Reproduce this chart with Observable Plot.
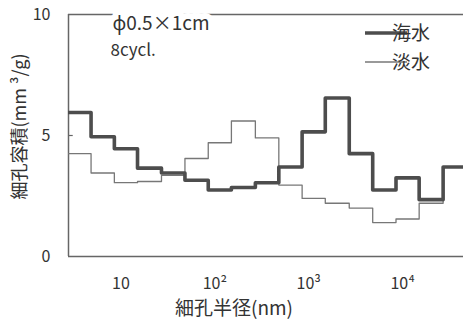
<!DOCTYPE html>
<html>
<head>
<meta charset="utf-8">
<script src="https://cdn.jsdelivr.net/npm/d3@7"></script>
<script src="https://cdn.jsdelivr.net/npm/@observablehq/plot@0.6"></script>
<style>
  html, body { margin: 0; padding: 0; background: white; }
  #chart { width: 463px; height: 327px; }
</style>
</head>
<body>
<div id="chart"></div>
<script>
// Bin edges of pore radius (nm), log-spaced classes
const binEdges = [2.7, 4.8, 8.5, 15, 27, 48, 85, 150, 270, 480, 850, 1500, 2700, 4800, 8500, 15000, 27000, 48000];
// Pore volume (mm^3/g) per class
const seawater   = [5.95, 4.95, 4.45, 3.65, 3.45, 3.15, 2.75, 2.85, 3.05, 3.7, 5.15, 6.55, 4.25, 2.75, 3.25, 2.35, 3.7];
const freshwater = [4.25, 3.45, 3.05, 3.1, 3.35, 4.05, 4.7, 5.6, 4.9, 2.95, 2.4, 2.2, 2.0, 1.4, 1.55, 2.2, 3.7];
const seriesNames = ["海水", "淡水"];
const xTicks = [10, 100, 1000, 10000];
const xTickLabels = ["10", "10²", "10³", "10⁴"];
const yTicks = [0, 5, 10];
const xDomain = [2.76, 44500];
const yDomain = [0, 10];

function steps(vals) {
  const pts = vals.map((v, i) => ({x: binEdges[i], y: v}));
  pts.push({x: binEdges[vals.length], y: vals[vals.length - 1]});
  return pts;
}

const font = "'Noto Sans CJK JP', 'Noto Sans', sans-serif";
const ink = "#333";

const plot = Plot.plot({
  width: 463,
  height: 327,
  marginLeft: 68,
  marginRight: 0,
  marginTop: 14,
  marginBottom: 71,
  x: {type: "log", domain: xDomain},
  y: {domain: yDomain},
  style: {fontFamily: font, color: ink, background: "white", overflow: "visible"},
  marks: [
    Plot.ruleX([xDomain[0]], {stroke: "#666", strokeWidth: 1.5}),
    Plot.ruleY([yDomain[0]], {stroke: "#666", strokeWidth: 1.5}),
    Plot.ruleY([yDomain[1]], {stroke: "#666", strokeWidth: 1.5}),
    Plot.ruleY([5], {x1: xDomain[0], x2: 3.1, stroke: "#666", strokeWidth: 1.2}),
    Plot.line(steps(freshwater), {x: "x", y: "y", curve: "step-after", stroke: "#777", strokeWidth: 1.3, clip: true}),
    Plot.line(steps(seawater), {x: "x", y: "y", curve: "step-after", stroke: "#4d4d4d", strokeWidth: 3.6, clip: true}),
    Plot.axisY(yTicks, {tickSize: 0, tickPadding: 18, fontSize: 16, label: null, fill: ink}),
    Plot.axisX(xTicks, {tickSize: 0, tickPadding: 21, fontSize: 16, label: null, fill: ink,
      tickFormat: (d) => xTickLabels[xTicks.indexOf(d)]}),
    Plot.text(["ϕ0.5×1cm"], {frameAnchor: "top-left", dx: 44, dy: 2, textAnchor: "start",
      fontSize: 19, fill: ink, stroke: "white", strokeWidth: 12}),
    Plot.text(["8cycl."], {frameAnchor: "top-left", dx: 42, dy: 29, textAnchor: "start",
      fontSize: 17, fill: ink}),
    Plot.text(["細孔容積(mm ³/g)"], {frameAnchor: "left", dx: -48, dy: -9, rotate: -90,
      textAnchor: "middle", fontSize: 18, fill: ink}),
    Plot.text(["細孔半径(nm)"], {frameAnchor: "bottom", dx: -32, dy: 52, textAnchor: "middle",
      lineAnchor: "middle", fontSize: 19, fill: ink})
  ]
});

document.getElementById("chart").appendChild(plot);

// legend inside the plot area
const svg = d3.select(plot);
const lg = svg.append("g").attr("font-family", font).attr("font-size", 19).attr("fill", ink);
const legendItems = [
  {name: seriesNames[0], w: 3.6, c: "#4d4d4d", y: 33},
  {name: seriesNames[1], w: 1.3, c: "#777", y: 62}
];
legendItems.forEach(it => {
  lg.append("line").attr("x1", 365).attr("x2", 407).attr("y1", it.y).attr("y2", it.y)
    .attr("stroke", it.c).attr("stroke-width", it.w);
  lg.append("text").attr("x", 411).attr("y", it.y).attr("dy", "0.35em").text(it.name);
});
</script>
</body>
</html>
